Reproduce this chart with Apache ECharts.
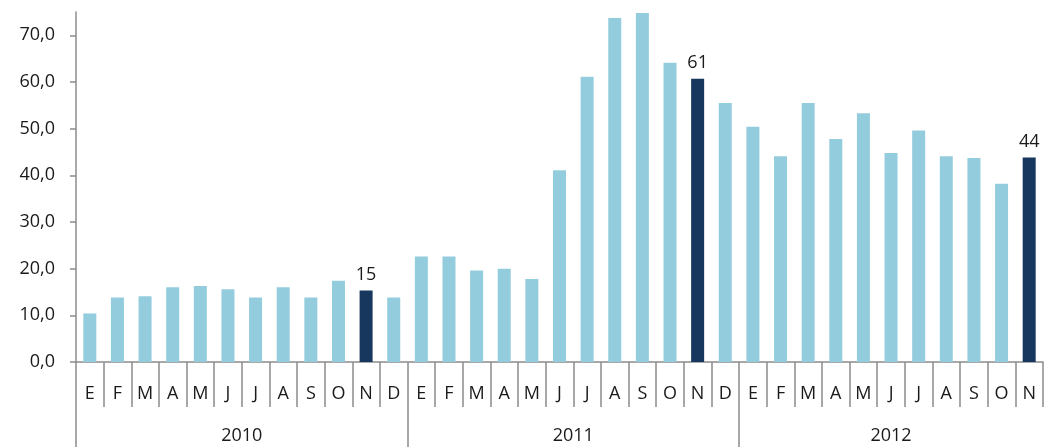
<!DOCTYPE html>
<html>
<head>
<meta charset="utf-8">
<script src="https://cdn.jsdelivr.net/npm/echarts@6/dist/echarts.min.js"></script>
<style>
  html, body { margin: 0; padding: 0; background: #fff; }
  #chart { width: 1046px; height: 447px; }
</style>
</head>
<body>
<div id="chart"></div>
<script>
// meses (etiquetas del eje)
const months = ["E", "F", "M", "A", "M", "J", "J", "A", "S", "O", "N", "D"];
const years = ["2010", "2011", "2012"];

// valores por año
const values2010 = [10.4, 13.8, 14.1, 16.0, 16.3, 15.6, 13.8, 16.0, 13.8, 17.4, 15.3, 13.8];
const values2011 = [22.6, 22.6, 19.6, 20.0, 17.8, 41.1, 61.1, 73.7, 74.8, 64.1, 60.7, 55.5];
const values2012 = [50.4, 44.1, 55.5, 47.8, 53.3, 44.8, 49.6, 44.1, 43.7, 38.2, 43.8];

const yTicks = [0, 10, 20, 30, 40, 50, 60, 70];
const highlightMonth = 10; // noviembre

const lightColor = "#93CDDD";
const darkColor = "#17375E";
const axisColor = "#8c8c8c";
const textColor = "#1a1a1a";
const font = "Open Sans";

// categorías y datos
const allValues = values2010.concat(values2011, values2012);
const categories = allValues.map((v, i) => months[i % 12]);
const barData = allValues.map((v, i) => {
  if (i % 12 !== highlightMonth) {
    return v;
  }
  return {
    value: v,
    itemStyle: { color: darkColor, borderColor: darkColor, borderWidth: 1.5 },
    label: {
      show: true,
      position: "top",
      distance: 7,
      formatter: p => Math.round(p.value)
    }
  };
});

// eje de años: puntos cada medio mes, etiqueta en el centro de cada año
const yearAxisData = [];
for (let k = 0; k <= categories.length * 2; k++) {
  yearAxisData.push("");
}
years.forEach((y, i) => {
  const start = i * 12;
  const end = Math.min(start + 12, categories.length);
  yearAxisData[start + end] = y;
});

const chart = echarts.init(document.getElementById("chart"));

chart.setOption({
  animation: false,
  backgroundColor: "#ffffff",
  textStyle: { fontFamily: font },
  grid: {
    left: 76,
    right: 0,
    top: 12,
    bottom: 85,
    containLabel: false
  },
  xAxis: [
    {
      type: "category",
      data: categories,
      boundaryGap: true,
      axisLine: { lineStyle: { color: axisColor, width: 1.5 } },
      axisTick: {
        show: true,
        interval: 0,
        length: 45,
        lineStyle: { color: axisColor, width: 1.5 }
      },
      axisLabel: {
        interval: 0,
        margin: 23,
        fontSize: 18,
        color: textColor,
        fontFamily: font
      },
      splitLine: { show: false }
    },
    {
      type: "category",
      data: yearAxisData,
      boundaryGap: false,
      position: "bottom",
      axisLine: { show: false },
      axisTick: {
        show: true,
        interval: idx => idx % 24 === 0 && idx < yearAxisData.length - 1,
        length: 86,
        lineStyle: { color: axisColor, width: 1.5 }
      },
      axisLabel: {
        interval: 0,
        margin: 65,
        fontSize: 18,
        color: textColor,
        fontFamily: font
      },
      splitLine: { show: false }
    }
  ],
  yAxis: {
    type: "value",
    min: 0,
    max: 75,
    axisLine: { show: true, lineStyle: { color: axisColor, width: 1.5 } },
    axisTick: {
      show: true,
      length: 6,
      customValues: yTicks,
      lineStyle: { color: axisColor, width: 1.5 }
    },
    axisLabel: {
      customValues: yTicks,
      margin: 21,
      fontSize: 18,
      color: textColor,
      fontFamily: font,
      formatter: v => v.toFixed(1).replace(".", ",")
    },
    splitLine: { show: false }
  },
  series: [
    {
      type: "bar",
      xAxisIndex: 0,
      barWidth: 13,
      itemStyle: { color: lightColor },
      label: {
        show: false,
        fontSize: 18,
        color: textColor,
        fontFamily: font
      },
      data: barData
    }
  ]
});
</script>
</body>
</html>
